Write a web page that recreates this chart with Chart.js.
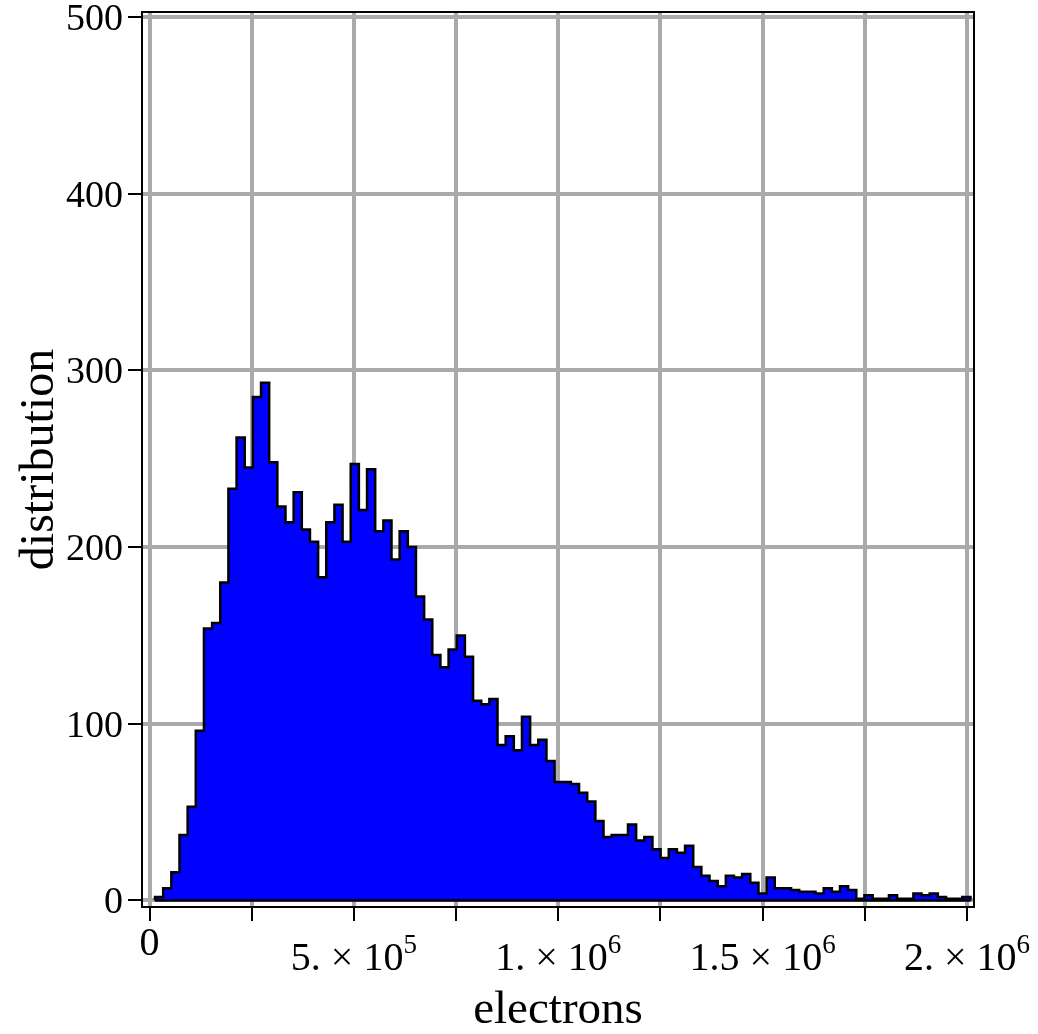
<!DOCTYPE html>
<html>
<head>
<meta charset="utf-8">
<title>electrons distribution</title>
<script src="https://cdn.jsdelivr.net/npm/chart.js@4/dist/chart.umd.min.js"></script>
<style>
  html, body { margin: 0; padding: 0; background: #fff; }
  canvas { display: block; }
</style>
</head>
<body>
<canvas id="histChart" width="1038" height="1034"></canvas>
<script>
// histogram bins: left edge of the first bin and common bin width
const binStart = 13500;
const binWidth = 19950;

// counts per bin, 100 bins
const counts = [
  2, 7, 16, 37, 53, 96, 154, 157, 180, 233,
  262, 245, 285, 293, 248, 223, 214, 231, 210, 203,
  183, 214, 224, 203, 247, 221, 244, 209, 215, 193,
  209, 200, 172, 159, 139, 132, 142, 150, 138, 113,
  111, 114, 88, 93, 85, 104, 88, 91, 79, 67,
  67, 66, 61, 56, 45, 36, 37, 37, 43, 34,
  36, 29, 24, 29, 27, 31, 19, 14, 11, 8,
  14, 13, 15, 10, 4, 13, 7, 7, 6, 5,
  5, 4, 7, 5, 8, 6, 1, 3, 1, 1,
  3, 1, 1, 4, 3, 4, 2, 1, 1, 2
];

const xTickValues = [0, 250000, 500000, 750000, 1000000, 1250000, 1500000, 1750000, 2000000];
const xTickLabels = ['0', '', '5. \u00d7 10^5', '', '1. \u00d7 10^6', '', '1.5 \u00d7 10^6', '', '2. \u00d7 10^6'];
const yTickValues = [0, 100, 200, 300, 400, 500];

const serif = '"Liberation Serif", "Times New Roman", serif';
const binEnd = binStart + counts.length * binWidth;

// stepped outline: start on the baseline, one point per bin left edge, back down at the end
const histPoints = [{ x: binStart, y: 0 }];
counts.forEach((c, i) => histPoints.push({ x: binStart + i * binWidth, y: c }));
histPoints.push({ x: binEnd, y: 0 });

// x tick labels with raised exponents
const sciLabels = {
  id: 'sciLabels',
  afterDraw(chart) {
    const ctx = chart.ctx;
    const xs = chart.scales.x;
    const bottom = chart.chartArea.bottom;
    ctx.save();
    ctx.fillStyle = '#000';
    ctx.textBaseline = 'alphabetic';
    ctx.textAlign = 'left';
    xTickValues.forEach((v, i) => {
      const label = xTickLabels[i];
      if (!label) return;
      const parts = label.split('^');
      const base = parts[0], sup = parts[1];
      const px = xs.getPixelForValue(v);
      ctx.font = '40px ' + serif;
      const wBase = ctx.measureText(base).width;
      let wSup = 0;
      if (sup) {
        ctx.font = '27px ' + serif;
        wSup = ctx.measureText(sup).width;
      }
      const left = px - (wBase + wSup) / 2;
      const baseY = sup ? bottom + 63 : bottom + 48;
      ctx.font = '40px ' + serif;
      ctx.fillText(base, left, baseY);
      if (sup) {
        ctx.font = '27px ' + serif;
        ctx.fillText(sup, left + wBase, baseY - 17);
      }
    });
    ctx.restore();
  }
};

// black box around the plot area
const plotFrame = {
  id: 'plotFrame',
  afterDraw(chart) {
    const { ctx, chartArea: a } = chart;
    ctx.save();
    ctx.strokeStyle = '#000';
    ctx.lineWidth = 2;
    ctx.strokeRect(a.left, a.top, a.right - a.left, a.bottom - a.top);
    ctx.restore();
  }
};

new Chart(document.getElementById('histChart'), {
  type: 'line',
  data: {
    datasets: [
      {
        data: histPoints,
        stepped: true,
        fill: 'origin',
        backgroundColor: '#0000ff',
        borderColor: '#000',
        borderWidth: 2.5,
        pointRadius: 0,
        order: 2
      },
      {
        data: [{ x: binStart, y: 0 }, { x: binEnd, y: 0 }],
        fill: false,
        borderColor: '#000',
        borderWidth: 2.5,
        pointRadius: 0,
        order: 1
      }
    ]
  },
  options: {
    responsive: false,
    animation: false,
    devicePixelRatio: 1,
    layout: { padding: { top: 12, right: 64, left: 0, bottom: 0 } },
    plugins: {
      legend: { display: false },
      tooltip: { enabled: false }
    },
    scales: {
      x: {
        type: 'linear',
        min: -18350,
        max: 2017125,
        afterBuildTicks: (scale) => { scale.ticks = xTickValues.map(v => ({ value: v })); },
        afterFit: (scale) => {
          scale.height = 127;
          scale.paddingLeft = 0;
          scale.paddingRight = 0;
        },
        grid: {
          color: '#aaaaaa',
          lineWidth: 4,
          tickColor: '#000',
          tickWidth: 2,
          tickLength: 14
        },
        border: { display: false },
        ticks: { display: false },
        title: {
          display: true,
          text: 'electrons',
          color: '#000',
          font: { family: serif, size: 47, lineHeight: 1 },
          padding: { top: 0, bottom: 0 }
        }
      },
      y: {
        min: -3.68,
        max: 502.83,
        afterBuildTicks: (scale) => { scale.ticks = yTickValues.map(v => ({ value: v })); },
        afterFit: (scale) => {
          scale.width = 142;
          scale.paddingTop = 0;
          scale.paddingBottom = 0;
        },
        grid: {
          color: '#aaaaaa',
          lineWidth: 4,
          tickColor: '#000',
          tickWidth: 2,
          tickLength: 14
        },
        border: { display: false },
        ticks: {
          color: '#000',
          font: { family: serif, size: 38 },
          padding: 5,
          labelOffset: 3
        },
        title: {
          display: true,
          text: 'distribution',
          color: '#000',
          font: { family: serif, size: 48, lineHeight: 1 },
          padding: { top: 16, bottom: 0 }
        }
      }
    }
  },
  plugins: [sciLabels, plotFrame]
});
</script>
</body>
</html>
